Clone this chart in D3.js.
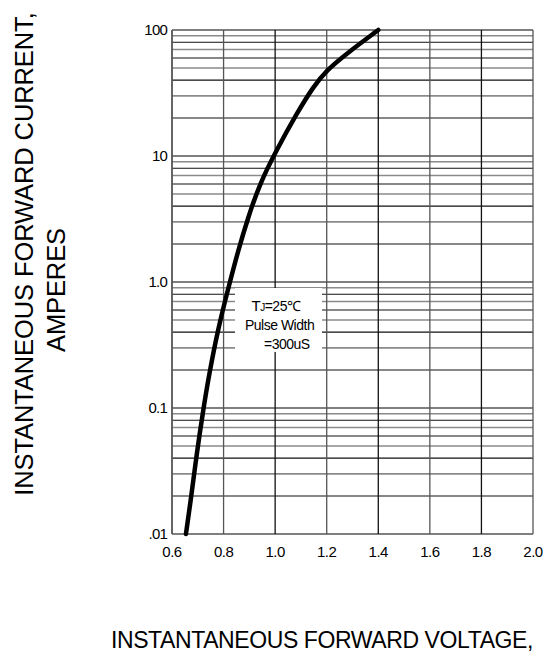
<!DOCTYPE html>
<html lang="en">
<head>
    <meta charset="UTF-8">
    <title>Forward characteristics</title>
    <script src="https://d3js.org/d3.v7.min.js"></script>
    <style>
        body { margin: 0; background: #fff; }
        text { font-family: "Liberation Sans", Arial, sans-serif; fill: #000; }
    </style>
</head>
<body>
    <script type="text/javascript">
        var width = 545, height = 657;

        // curve (volts, amperes)
        var voltage = [0.654, 0.673, 0.696, 0.721, 0.741, 0.78, 0.82, 0.857, 0.896, 0.941, 1.006, 1.084, 1.148, 1.2, 1.277, 1.4];
        var current = [0.01, 0.0186, 0.0437, 0.096, 0.172, 0.44, 0.92, 1.79, 3.3, 6.07, 11.2, 21.8, 35.5, 48, 65, 100];

        var xTicks = [0.6, 0.8, 1.0, 1.2, 1.4, 1.6, 1.8, 2.0];
        var xTickLabels = ["0.6", "0.8", "1.0", "1.2", "1.4", "1.6", "1.8", "2.0"];
        var yTicks = [0.01, 0.1, 1, 10, 100];
        var yTickLabels = [".01", "0.1", "1.0", "10", "100"];
        var noteLines = ["=25\u2103", "Pulse Width", "=300uS"];

        var x = d3.scaleLinear().domain([0.6, 2.0]).range([172, 533]);
        var y = d3.scaleLog().domain([0.01, 100]).range([534, 30]);

        var svg = d3.select("body").append("svg")
            .attr("width", width)
            .attr("height", height);

        // minor log grid, alternating grey / black
        var minors = [];
        yTicks.slice(0, -1).forEach(function (dec) {
            for (var m = 2; m <= 9; m++) minors.push({ v: dec * m, grey: m % 2 == 1 });
        });
        svg.append("g").selectAll("line").data(minors).enter().append("line")
            .attr("x1", x(0.6)).attr("x2", x(2.0))
            .attr("y1", function (d) { return y(d.v); })
            .attr("y2", function (d) { return y(d.v); })
            .attr("stroke", function (d) { return d.grey ? "#8a8a8a" : "#111"; })
            .attr("stroke-width", function (d) { return d.grey ? 1.6 : 1.1; });

        // decade lines
        svg.append("g").selectAll("line").data(yTicks).enter().append("line")
            .attr("x1", x(0.6)).attr("x2", x(2.0))
            .attr("y1", function (d) { return y(d); })
            .attr("y2", function (d) { return y(d); })
            .attr("stroke", "#000").attr("stroke-width", 1.2);

        // vertical grid
        svg.append("g").selectAll("line").data(xTicks).enter().append("line")
            .attr("x1", function (d) { return x(d); })
            .attr("x2", function (d) { return x(d); })
            .attr("y1", y(100)).attr("y2", y(0.01))
            .attr("stroke", function (d, i) { return (i == 0 || i % 2 == 1) ? "#555" : "#111"; })
            .attr("stroke-width", function (d, i) { return i == 0 ? 1.8 : 1.3; });

        // note box blanks the grid behind it
        svg.append("rect")
            .attr("x", 235).attr("y", 288)
            .attr("width", 87).attr("height", 64)
            .attr("fill", "#fff");

        var note = svg.append("g").style("font-size", "14px").style("letter-spacing", "-0.5px");
        var t1 = note.append("text").attr("x", 251.5).attr("y", 310.5);
        t1.append("tspan").style("font-size", "15px").text("T");
        t1.append("tspan").style("font-size", "10px").text("J");
        t1.append("tspan").text(noteLines[0]);
        note.append("text").attr("x", 245).attr("y", 329.5).text(noteLines[1]);
        note.append("text").attr("x", 264).attr("y", 349).text(noteLines[2]);

        // the curve
        var pts = voltage.map(function (v, i) { return [v, current[i]]; });
        var line = d3.line()
            .x(function (d) { return x(d[0]); })
            .y(function (d) { return y(d[1]); })
            .curve(d3.curveBasis);
        svg.append("path")
            .attr("d", line(pts))
            .attr("fill", "none")
            .attr("stroke", "#000")
            .attr("stroke-width", 4.5)
            .attr("stroke-linecap", "round");

        // tick labels
        svg.append("g").selectAll("text").data(xTicks).enter().append("text")
            .attr("x", function (d) { return x(d); })
            .attr("y", 556.5)
            .attr("text-anchor", "middle")
            .style("font-size", "15px").style("letter-spacing", "-0.5px")
            .text(function (d, i) { return xTickLabels[i]; });

        svg.append("g").selectAll("text").data(yTicks).enter().append("text")
            .attr("x", 167)
            .attr("y", function (d) { return y(d); })
            .attr("dy", "0.35em")
            .attr("text-anchor", "end")
            .style("font-size", "15px").style("letter-spacing", "-0.8px")
            .text(function (d, i) { return yTickLabels[i]; });

        // axis titles
        svg.append("text")
            .attr("transform", "translate(33,254) rotate(-90)")
            .attr("text-anchor", "middle")
            .style("font-size", "25.5px").style("letter-spacing", "-0.1px")
            .text("INSTANTANEOUS FORWARD CURRENT,");
        svg.append("text")
            .attr("transform", "translate(65,290) rotate(-90)")
            .attr("text-anchor", "middle")
            .style("font-size", "25.5px").style("letter-spacing", "-0.1px")
            .text("AMPERES");

        svg.append("text")
            .attr("x", 322).attr("y", 648)
            .attr("text-anchor", "middle")
            .style("font-size", "23px").style("letter-spacing", "-0.4px")
            .text("INSTANTANEOUS FORWARD VOLTAGE,");
    </script>
</body>
</html>
